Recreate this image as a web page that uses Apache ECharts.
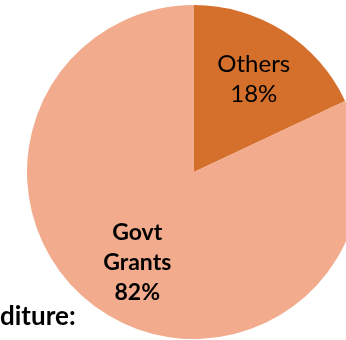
<!DOCTYPE html>
<html>
<head>
<meta charset="utf-8">
<script src="https://cdn.jsdelivr.net/npm/echarts@6/dist/echarts.min.js"></script>
<style>
  html, body { margin: 0; padding: 0; background: #fff; }
  #chart { width: 346px; height: 340px; }
</style>
</head>
<body>
<div id="chart"></div>
<script>
// Funding sources, percent of total
const categories = ['Others', 'Govt\nGrants'];
const shares = [18, 82];
const colors = ['#D46F2C', '#F2AB8C'];
const titleText = 'diture:';

const FONT = 'Lato, "Liberation Sans", sans-serif';
const CENTER = [194, 172];
const RADIUS = 167;

const sliceData = categories.map((name, i) => ({
  name: name,
  value: shares[i],
  itemStyle: { color: colors[i] }
}));

const labelData = categories.map((name, i) => ({
  name: name,
  value: shares[i],
  label: i === 1 ? { fontWeight: 'bold', fontSize: 23 } : { fontWeight: 'normal', fontSize: 24 }
}));

// small nudges for the label blocks
const labelNudge = [[0, 1], [3, -4]];

const chart = echarts.init(document.getElementById('chart'), null, { renderer: 'canvas' });
chart.setOption({
  animation: false,
  backgroundColor: '#ffffff',
  title: {
    text: titleText,
    left: 0,
    top: 304,
    padding: 0,
    textStyle: { fontFamily: FONT, fontSize: 26, fontWeight: 'bold', color: '#000' }
  },
  series: [
    {
      type: 'pie',
      center: CENTER,
      radius: RADIUS,
      startAngle: 90,
      clockwise: true,
      label: { show: false },
      labelLine: { show: false },
      itemStyle: { borderWidth: 0 },
      emphasis: { disabled: true },
      data: sliceData
    },
    {
      // transparent ring used only to place the slice labels
      type: 'pie',
      center: CENTER,
      radius: [50, RADIUS],
      startAngle: 90,
      clockwise: true,
      silent: true,
      itemStyle: { color: 'rgba(0,0,0,0)', borderWidth: 0 },
      labelLine: { show: false },
      label: {
        show: true,
        position: 'inside',
        formatter: '{b}\n{c}%',
        fontFamily: FONT,
        lineHeight: 30,
        color: '#000'
      },
      labelLayout: function (p) {
        const n = labelNudge[p.dataIndex] || [0, 0];
        return { dx: n[0], dy: n[1] };
      },
      emphasis: { disabled: true },
      data: labelData
    }
  ]
});
</script>
</body>
</html>
